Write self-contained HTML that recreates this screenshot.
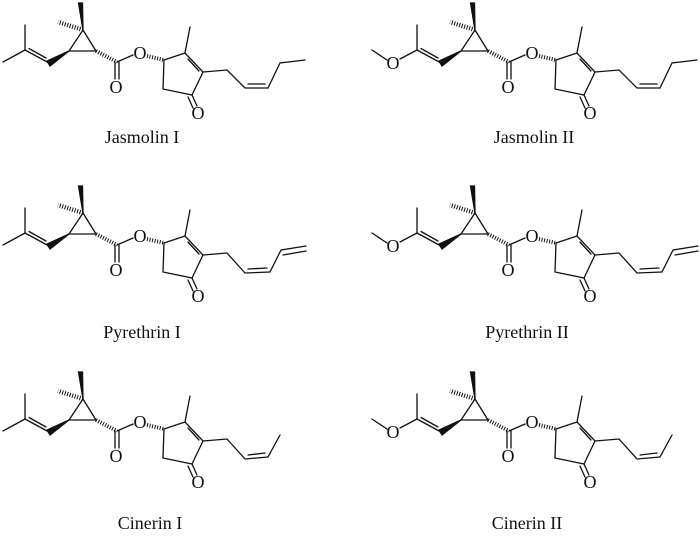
<!DOCTYPE html>
<html><head><meta charset="utf-8"><style>
html,body{margin:0;padding:0;background:#fff;width:700px;height:536px;overflow:hidden}
svg{display:block}
text{font-family:"Liberation Serif",serif;fill:#111;stroke:none}
.o{font-size:18px;text-anchor:middle}
.l{font-size:18px;text-anchor:middle}
</style></head><body>
<svg width="700" height="536" viewBox="0 0 700 536" xmlns="http://www.w3.org/2000/svg">
<g stroke="#111" stroke-width="1.3" fill="none" stroke-linecap="round">

<g transform="translate(0,0)">
<polygon points="83,30 78.5,3 82.5,3" fill="#111"/>
<line x1="83" y1="30" x2="58" y2="22" stroke-width="4.5" stroke-dasharray="1,1.6" stroke-linecap="butt"/>
<polygon points="83,30 69,51 96,51"/>
<polygon points="69,51 47,61 50,66" fill="#111"/>
<line x1="49" y1="63" x2="25" y2="50"/><line x1="46" y1="58" x2="29" y2="48.5"/>
<line x1="25" y1="50" x2="25" y2="25"/>
<line x1="25" y1="50" x2="3" y2="62"/>
<line x1="96" y1="51" x2="117" y2="62" stroke-width="4" stroke-dasharray="1,1.6" stroke-linecap="butt"/>
<line x1="115" y1="62" x2="115" y2="79"/><line x1="119" y1="62" x2="119" y2="79"/>
<line x1="117" y1="62" x2="133" y2="55"/>
<line x1="147" y1="56" x2="164" y2="60" stroke-width="4" stroke-dasharray="1,1.6" stroke-linecap="butt"/>
<polygon points="164,60 185,53 203,72 192,95 163,89"/>
<line x1="188" y1="59" x2="199" y2="71"/>
<line x1="185" y1="53" x2="190" y2="27"/>
<line x1="192" y1="95" x2="197" y2="106"/><line x1="188" y1="97" x2="193" y2="108"/>
<polyline points="203,72 227,70 245,88 268,88"/><line x1="248" y1="84" x2="265" y2="84"/>
<polyline points="268,88 280,63 305,60"/>
<text class="o" x="116" y="93">O</text><text class="o" x="140" y="59">O</text><text class="o" x="198" y="119">O</text>
</g>

<g transform="translate(392,0)">
<polygon points="83,30 78.5,3 82.5,3" fill="#111"/>
<line x1="83" y1="30" x2="58" y2="22" stroke-width="4.5" stroke-dasharray="1,1.6" stroke-linecap="butt"/>
<polygon points="83,30 69,51 96,51"/>
<polygon points="69,51 47,61 50,66" fill="#111"/>
<line x1="49" y1="63" x2="25" y2="50"/><line x1="46" y1="58" x2="29" y2="48.5"/>
<line x1="25" y1="50" x2="25" y2="25"/>
<line x1="25" y1="50" x2="8" y2="59"/><line x1="-5" y1="60" x2="-20" y2="50"/>
<line x1="96" y1="51" x2="117" y2="62" stroke-width="4" stroke-dasharray="1,1.6" stroke-linecap="butt"/>
<line x1="115" y1="62" x2="115" y2="79"/><line x1="119" y1="62" x2="119" y2="79"/>
<line x1="117" y1="62" x2="133" y2="55"/>
<line x1="147" y1="56" x2="164" y2="60" stroke-width="4" stroke-dasharray="1,1.6" stroke-linecap="butt"/>
<polygon points="164,60 185,53 203,72 192,95 163,89"/>
<line x1="188" y1="59" x2="199" y2="71"/>
<line x1="185" y1="53" x2="190" y2="27"/>
<line x1="192" y1="95" x2="197" y2="106"/><line x1="188" y1="97" x2="193" y2="108"/>
<polyline points="203,72 227,70 245,88 268,88"/><line x1="248" y1="84" x2="265" y2="84"/>
<polyline points="268,88 280,63 305,60"/>
<text class="o" x="1" y="69">O</text>
<text class="o" x="116" y="93">O</text><text class="o" x="140" y="59">O</text><text class="o" x="198" y="119">O</text>
</g>

<g transform="translate(0,183)">
<polygon points="83,30 78.5,3 82.5,3" fill="#111"/>
<line x1="83" y1="30" x2="58" y2="22" stroke-width="4.5" stroke-dasharray="1,1.6" stroke-linecap="butt"/>
<polygon points="83,30 69,51 96,51"/>
<polygon points="69,51 47,61 50,66" fill="#111"/>
<line x1="49" y1="63" x2="25" y2="50"/><line x1="46" y1="58" x2="29" y2="48.5"/>
<line x1="25" y1="50" x2="25" y2="25"/>
<line x1="25" y1="50" x2="3" y2="62"/>
<line x1="96" y1="51" x2="117" y2="62" stroke-width="4" stroke-dasharray="1,1.6" stroke-linecap="butt"/>
<line x1="115" y1="62" x2="115" y2="79"/><line x1="119" y1="62" x2="119" y2="79"/>
<line x1="117" y1="62" x2="133" y2="55"/>
<line x1="147" y1="56" x2="164" y2="60" stroke-width="4" stroke-dasharray="1,1.6" stroke-linecap="butt"/>
<polygon points="164,60 185,53 203,72 192,95 163,89"/>
<line x1="188" y1="59" x2="199" y2="71"/>
<line x1="185" y1="53" x2="190" y2="27"/>
<line x1="192" y1="95" x2="197" y2="106"/><line x1="188" y1="97" x2="193" y2="108"/>
<polyline points="203,72 227,70 245,90 270,89"/><line x1="248" y1="86" x2="267" y2="85"/>
<polyline points="270,89 281,67 306,63"/><line x1="283" y1="72" x2="306" y2="68"/>
<text class="o" x="116" y="93">O</text><text class="o" x="140" y="59">O</text><text class="o" x="198" y="119">O</text>
</g>

<g transform="translate(392,183)">
<polygon points="83,30 78.5,3 82.5,3" fill="#111"/>
<line x1="83" y1="30" x2="58" y2="22" stroke-width="4.5" stroke-dasharray="1,1.6" stroke-linecap="butt"/>
<polygon points="83,30 69,51 96,51"/>
<polygon points="69,51 47,61 50,66" fill="#111"/>
<line x1="49" y1="63" x2="25" y2="50"/><line x1="46" y1="58" x2="29" y2="48.5"/>
<line x1="25" y1="50" x2="25" y2="25"/>
<line x1="25" y1="50" x2="8" y2="59"/><line x1="-5" y1="60" x2="-20" y2="50"/>
<line x1="96" y1="51" x2="117" y2="62" stroke-width="4" stroke-dasharray="1,1.6" stroke-linecap="butt"/>
<line x1="115" y1="62" x2="115" y2="79"/><line x1="119" y1="62" x2="119" y2="79"/>
<line x1="117" y1="62" x2="133" y2="55"/>
<line x1="147" y1="56" x2="164" y2="60" stroke-width="4" stroke-dasharray="1,1.6" stroke-linecap="butt"/>
<polygon points="164,60 185,53 203,72 192,95 163,89"/>
<line x1="188" y1="59" x2="199" y2="71"/>
<line x1="185" y1="53" x2="190" y2="27"/>
<line x1="192" y1="95" x2="197" y2="106"/><line x1="188" y1="97" x2="193" y2="108"/>
<polyline points="203,72 227,70 245,90 270,89"/><line x1="248" y1="86" x2="267" y2="85"/>
<polyline points="270,89 281,67 306,63"/><line x1="283" y1="72" x2="306" y2="68"/>
<text class="o" x="1" y="69">O</text>
<text class="o" x="116" y="93">O</text><text class="o" x="140" y="59">O</text><text class="o" x="198" y="119">O</text>
</g>

<g transform="translate(0,369)">
<polygon points="83,30 78.5,3 82.5,3" fill="#111"/>
<line x1="83" y1="30" x2="58" y2="22" stroke-width="4.5" stroke-dasharray="1,1.6" stroke-linecap="butt"/>
<polygon points="83,30 69,51 96,51"/>
<polygon points="69,51 47,61 50,66" fill="#111"/>
<line x1="49" y1="63" x2="25" y2="50"/><line x1="46" y1="58" x2="29" y2="48.5"/>
<line x1="25" y1="50" x2="25" y2="25"/>
<line x1="25" y1="50" x2="3" y2="62"/>
<line x1="96" y1="51" x2="117" y2="62" stroke-width="4" stroke-dasharray="1,1.6" stroke-linecap="butt"/>
<line x1="115" y1="62" x2="115" y2="79"/><line x1="119" y1="62" x2="119" y2="79"/>
<line x1="117" y1="62" x2="133" y2="55"/>
<line x1="147" y1="56" x2="164" y2="60" stroke-width="4" stroke-dasharray="1,1.6" stroke-linecap="butt"/>
<polygon points="164,60 185,53 203,72 192,95 163,89"/>
<line x1="188" y1="59" x2="199" y2="71"/>
<line x1="185" y1="53" x2="190" y2="27"/>
<line x1="192" y1="95" x2="197" y2="106"/><line x1="188" y1="97" x2="193" y2="108"/>
<polyline points="203,72 227,70 245,90 268,88"/><line x1="248" y1="86" x2="265" y2="84"/>
<polyline points="268,88 280,66"/>
<text class="o" x="116" y="93">O</text><text class="o" x="140" y="59">O</text><text class="o" x="198" y="119">O</text>
</g>

<g transform="translate(392,369)">
<polygon points="83,30 78.5,3 82.5,3" fill="#111"/>
<line x1="83" y1="30" x2="58" y2="22" stroke-width="4.5" stroke-dasharray="1,1.6" stroke-linecap="butt"/>
<polygon points="83,30 69,51 96,51"/>
<polygon points="69,51 47,61 50,66" fill="#111"/>
<line x1="49" y1="63" x2="25" y2="50"/><line x1="46" y1="58" x2="29" y2="48.5"/>
<line x1="25" y1="50" x2="25" y2="25"/>
<line x1="25" y1="50" x2="8" y2="59"/><line x1="-5" y1="60" x2="-20" y2="50"/>
<line x1="96" y1="51" x2="117" y2="62" stroke-width="4" stroke-dasharray="1,1.6" stroke-linecap="butt"/>
<line x1="115" y1="62" x2="115" y2="79"/><line x1="119" y1="62" x2="119" y2="79"/>
<line x1="117" y1="62" x2="133" y2="55"/>
<line x1="147" y1="56" x2="164" y2="60" stroke-width="4" stroke-dasharray="1,1.6" stroke-linecap="butt"/>
<polygon points="164,60 185,53 203,72 192,95 163,89"/>
<line x1="188" y1="59" x2="199" y2="71"/>
<line x1="185" y1="53" x2="190" y2="27"/>
<line x1="192" y1="95" x2="197" y2="106"/><line x1="188" y1="97" x2="193" y2="108"/>
<polyline points="203,72 227,70 245,90 268,88"/><line x1="248" y1="86" x2="265" y2="84"/>
<polyline points="268,88 280,66"/>
<text class="o" x="1" y="69">O</text>
<text class="o" x="116" y="93">O</text><text class="o" x="140" y="59">O</text><text class="o" x="198" y="119">O</text>
</g>
</g>

<text class="l" x="142" y="143">Jasmolin I</text>
<text class="l" x="534" y="143">Jasmolin II</text>
<text class="l" x="142" y="338">Pyrethrin I</text>
<text class="l" x="527" y="338">Pyrethrin II</text>
<text class="l" x="150" y="529">Cinerin I</text>
<text class="l" x="527" y="529">Cinerin II</text>
</svg>
</body></html>
